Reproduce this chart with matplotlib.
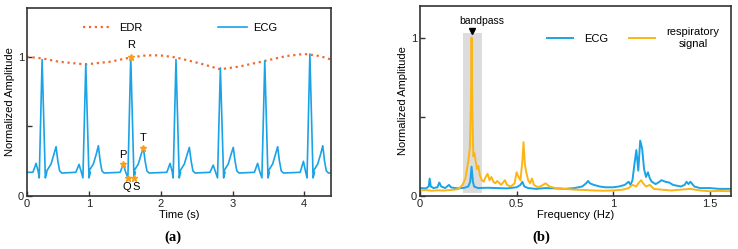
import numpy as np
import matplotlib
matplotlib.use("Agg")
import matplotlib.pyplot as plt

plt.rcParams['font.family'] = ['Liberation Sans', 'DejaVu Sans']
plt.rcParams['font.size'] = 8

# ---- panel (a): ECG beats (key points) ----
r_t = [0.34, 0.95, 1.578, 2.21, 2.83, 3.45, 4.08]
r_a = [0.98, 0.95, 1.00, 0.98, 0.92, 0.97, 1.02]
p_t = [0.256, 0.856, 1.475, 2.127, 2.73, 3.35, 3.99]
p_a = [0.234, 0.227, 0.230, 0.234, 0.222, 0.234, 0.249]
t_t = [0.535, 1.126, 1.754, 2.397, 3.01, 3.63, 4.26]
t_a = [0.354, 0.361, 0.347, 0.349, 0.349, 0.354, 0.361]
qs_a = 0.13
base = 0.17

# EDR envelope
edr_t = [0.125, 0.34, 0.575, 0.95, 1.29, 1.578, 1.8, 1.98, 2.21, 2.545,
         2.83, 3.1, 3.45, 3.75, 4.0, 4.22, 4.375]
edr_a = [1.0, 0.988, 0.964, 0.945, 0.964, 0.995, 1.01, 1.01, 0.995, 0.952,
         0.91, 0.93, 0.97, 1.005, 1.02, 1.005, 0.98]

# ---- panel (b): spectra ----
resp_f = [0.00, 0.03, 0.06, 0.09, 0.12, 0.15, 0.18, 0.20, 0.22, 0.235, 0.25, 0.258,
          0.264, 0.267, 0.271, 0.276, 0.282, 0.288, 0.295, 0.302, 0.31, 0.32, 0.33,
          0.34, 0.35, 0.36, 0.37, 0.38, 0.39, 0.40, 0.42, 0.44, 0.45, 0.47, 0.49,
          0.50, 0.51, 0.52, 0.53, 0.536, 0.543, 0.55, 0.56, 0.57, 0.58, 0.59, 0.61,
          0.63, 0.65, 0.67, 0.70, 0.75, 0.80, 0.85, 0.90, 0.95, 1.00, 1.05, 1.08,
          1.10, 1.12, 1.13, 1.145, 1.155, 1.17, 1.19, 1.21, 1.25, 1.30, 1.35, 1.40,
          1.45, 1.50, 1.55, 1.61]
resp_a = [0.035, 0.038, 0.033, 0.036, 0.034, 0.037, 0.040, 0.045, 0.07, 0.11, 0.22, 0.30,
          0.60, 1.00, 0.55, 0.25, 0.27, 0.22, 0.17, 0.19, 0.13, 0.10, 0.09,
          0.12, 0.14, 0.10, 0.12, 0.09, 0.08, 0.095, 0.07, 0.10, 0.07, 0.06, 0.08,
          0.15, 0.12, 0.10, 0.22, 0.34, 0.20, 0.15, 0.10, 0.08, 0.11, 0.07, 0.055,
          0.065, 0.08, 0.06, 0.05, 0.045, 0.04, 0.038, 0.035, 0.033, 0.035, 0.04, 0.05,
          0.07, 0.06, 0.08, 0.10, 0.08, 0.06, 0.07, 0.045, 0.04, 0.035, 0.04, 0.045,
          0.035, 0.03, 0.032, 0.03]

ecg_f = [0.00, 0.03, 0.045, 0.05, 0.056, 0.07, 0.09, 0.10, 0.11, 0.13, 0.15, 0.16,
         0.18, 0.20, 0.23, 0.25, 0.26, 0.267, 0.274, 0.28, 0.30, 0.35, 0.40, 0.45,
         0.50, 0.52, 0.53, 0.54, 0.56, 0.60, 0.65, 0.70, 0.75, 0.80, 0.84, 0.86,
         0.87, 0.88, 0.90, 0.93, 0.96, 1.00, 1.03, 1.06, 1.08, 1.09, 1.10, 1.11,
         1.12, 1.13, 1.14, 1.15, 1.16, 1.17, 1.18, 1.19, 1.20, 1.22, 1.24, 1.25,
         1.27, 1.29, 1.31, 1.33, 1.35, 1.37, 1.38, 1.39, 1.40, 1.42, 1.45, 1.50,
         1.55, 1.61]
ecg_a = [0.05, 0.048, 0.06, 0.11, 0.06, 0.05, 0.055, 0.085, 0.06, 0.05, 0.07, 0.055,
         0.05, 0.048, 0.052, 0.06, 0.09, 0.185, 0.09, 0.06, 0.05, 0.052, 0.05, 0.048,
         0.055, 0.07, 0.09, 0.06, 0.05, 0.045, 0.05, 0.048, 0.045, 0.05, 0.06, 0.08,
         0.095, 0.08, 0.07, 0.06, 0.055, 0.055, 0.06, 0.07, 0.09, 0.07, 0.10, 0.20,
         0.29, 0.16, 0.35, 0.30, 0.17, 0.12, 0.15, 0.11, 0.09, 0.075, 0.09, 0.10,
         0.09, 0.085, 0.07, 0.065, 0.06, 0.07, 0.09, 0.075, 0.09, 0.06, 0.05, 0.05,
         0.045, 0.045]

blue = '#1aa3e6'
orange = '#fdb515'
edr_col = '#f26a2e'
star_col = '#f8a01e'
dark = '#333333'

# build ECG polyline from the beat key points
ecg_x = [0.125]
ecg_y = [base]
for k in range(len(r_t)):
    pts = [(p_t[k] - 0.045, base), (p_t[k], p_a[k]), (p_t[k] + 0.03, base + 0.005),
           (r_t[k] - 0.04, qs_a), (r_t[k], r_a[k]), (r_t[k] + 0.045, qs_a),
           (r_t[k] + 0.065, base), (t_t[k] - 0.13, base + 0.01),
           (t_t[k] - 0.07, base + 0.06), (t_t[k] - 0.03, base + 0.13),
           (t_t[k], t_a[k]), (t_t[k] + 0.025, base + 0.08),
           (t_t[k] + 0.05, base + 0.01), (t_t[k] + 0.08, base - 0.005)]
    for px, py in pts:
        ecg_x.append(px)
        ecg_y.append(py)
ecg_x.append(4.375)
ecg_y.append(base - 0.005)

fig = plt.figure(figsize=(7.38, 2.49), dpi=100)
ax1 = fig.add_axes([0.0362, 0.2129, 0.4123, 0.755])
ax2 = fig.add_axes([0.5691, 0.2129, 0.4214, 0.763])

for ax in (ax1, ax2):
    for s in ax.spines.values():
        s.set_color(dark)
        s.set_linewidth(1.2)
    ax.tick_params(direction='in', length=3.5, width=1.0, colors=dark,
                   labelcolor='#222222', pad=2)

# panel (a)
ax1.plot(edr_t, edr_a, linestyle=':', color=edr_col, linewidth=1.6, label='EDR')
ax1.plot(ecg_x, ecg_y, color=blue, linewidth=1.2, label='ECG')
b = 2
mk_x = [p_t[b], r_t[b] - 0.04, r_t[b], r_t[b] + 0.045, t_t[b]]
mk_y = [p_a[b], qs_a, r_a[b], qs_a, t_a[b]]
ax1.plot(mk_x, mk_y, linestyle='none', marker='*', color=star_col, markersize=5)
ax1.text(r_t[b], r_a[b] + 0.05, 'R', ha='center', va='bottom')
ax1.text(p_t[b] - 0.01, p_a[b] + 0.03, 'P', ha='center', va='bottom')
ax1.text(t_t[b], t_a[b] + 0.03, 'T', ha='center', va='bottom')
ax1.text(r_t[b] - 0.06, qs_a - 0.03, 'Q', ha='center', va='top')
ax1.text(r_t[b] + 0.07, qs_a - 0.03, 'S', ha='center', va='top')

ax1.set_xlim(0.125, 4.375)
ax1.set_ylim(0, 1.35)
ax1.set_xticks([0.125, 1, 2, 3, 4])
ax1.set_xticklabels(['0', '1', '2', '3', '4'])
ax1.set_yticks([0, 0.5, 1])
ax1.set_yticklabels(['0', '', '1'])
ax1.set_xlabel('Time (s)', labelpad=1)
ax1.set_ylabel('Normalized Amplitude', labelpad=2)
ax1.legend(loc='upper center', bbox_to_anchor=(0.505, 0.975), ncol=2, frameon=False,
           handlelength=2.6, handletextpad=0.6, columnspacing=6.8)

# panel (b)
ax2.axvspan(0.221, 0.322, ymin=0.02 / 1.2, ymax=1.03 / 1.2, color='#dcdcdc', lw=0)
ax2.plot(ecg_f, ecg_a, color=blue, linewidth=1.4, label='ECG')
ax2.plot(resp_f, resp_a, color=orange, linewidth=1.4, label='respiratory\nsignal')
ax2.plot([0.269], [1.04], marker='v', color='black', markersize=4, linestyle='none')
ax2.text(0.32, 1.075, 'bandpass', ha='center', va='bottom', fontsize=7.5)
ax2.set_xlim(0, 1.61)
ax2.set_ylim(0, 1.2)
ax2.set_xticks([0, 0.5, 1, 1.5])
ax2.set_xticklabels(['0', '0.5', '1', '1.5'])
ax2.set_yticks([0, 0.5, 1])
ax2.set_yticklabels(['0', '', '1'])
ax2.set_xlabel('Frequency (Hz)', labelpad=1)
ax2.set_ylabel('Normalized Amplitude', labelpad=2)
leg = ax2.legend(loc='upper right', bbox_to_anchor=(0.995, 0.94), ncol=2, frameon=False,
                 handlelength=2.4, handletextpad=1.0, columnspacing=1.8)
for t in leg.get_texts():
    t.set_multialignment('center')

fig.text(0.234, 0.048, '(a)', ha='center', va='center', fontsize=10.5,
         family=['Liberation Serif', 'DejaVu Serif'], fontweight='bold')
fig.text(0.734, 0.048, '(b)', ha='center', va='center', fontsize=10.5,
         family=['Liberation Serif', 'DejaVu Serif'], fontweight='bold')

fig.savefig('out.png', dpi=100)
